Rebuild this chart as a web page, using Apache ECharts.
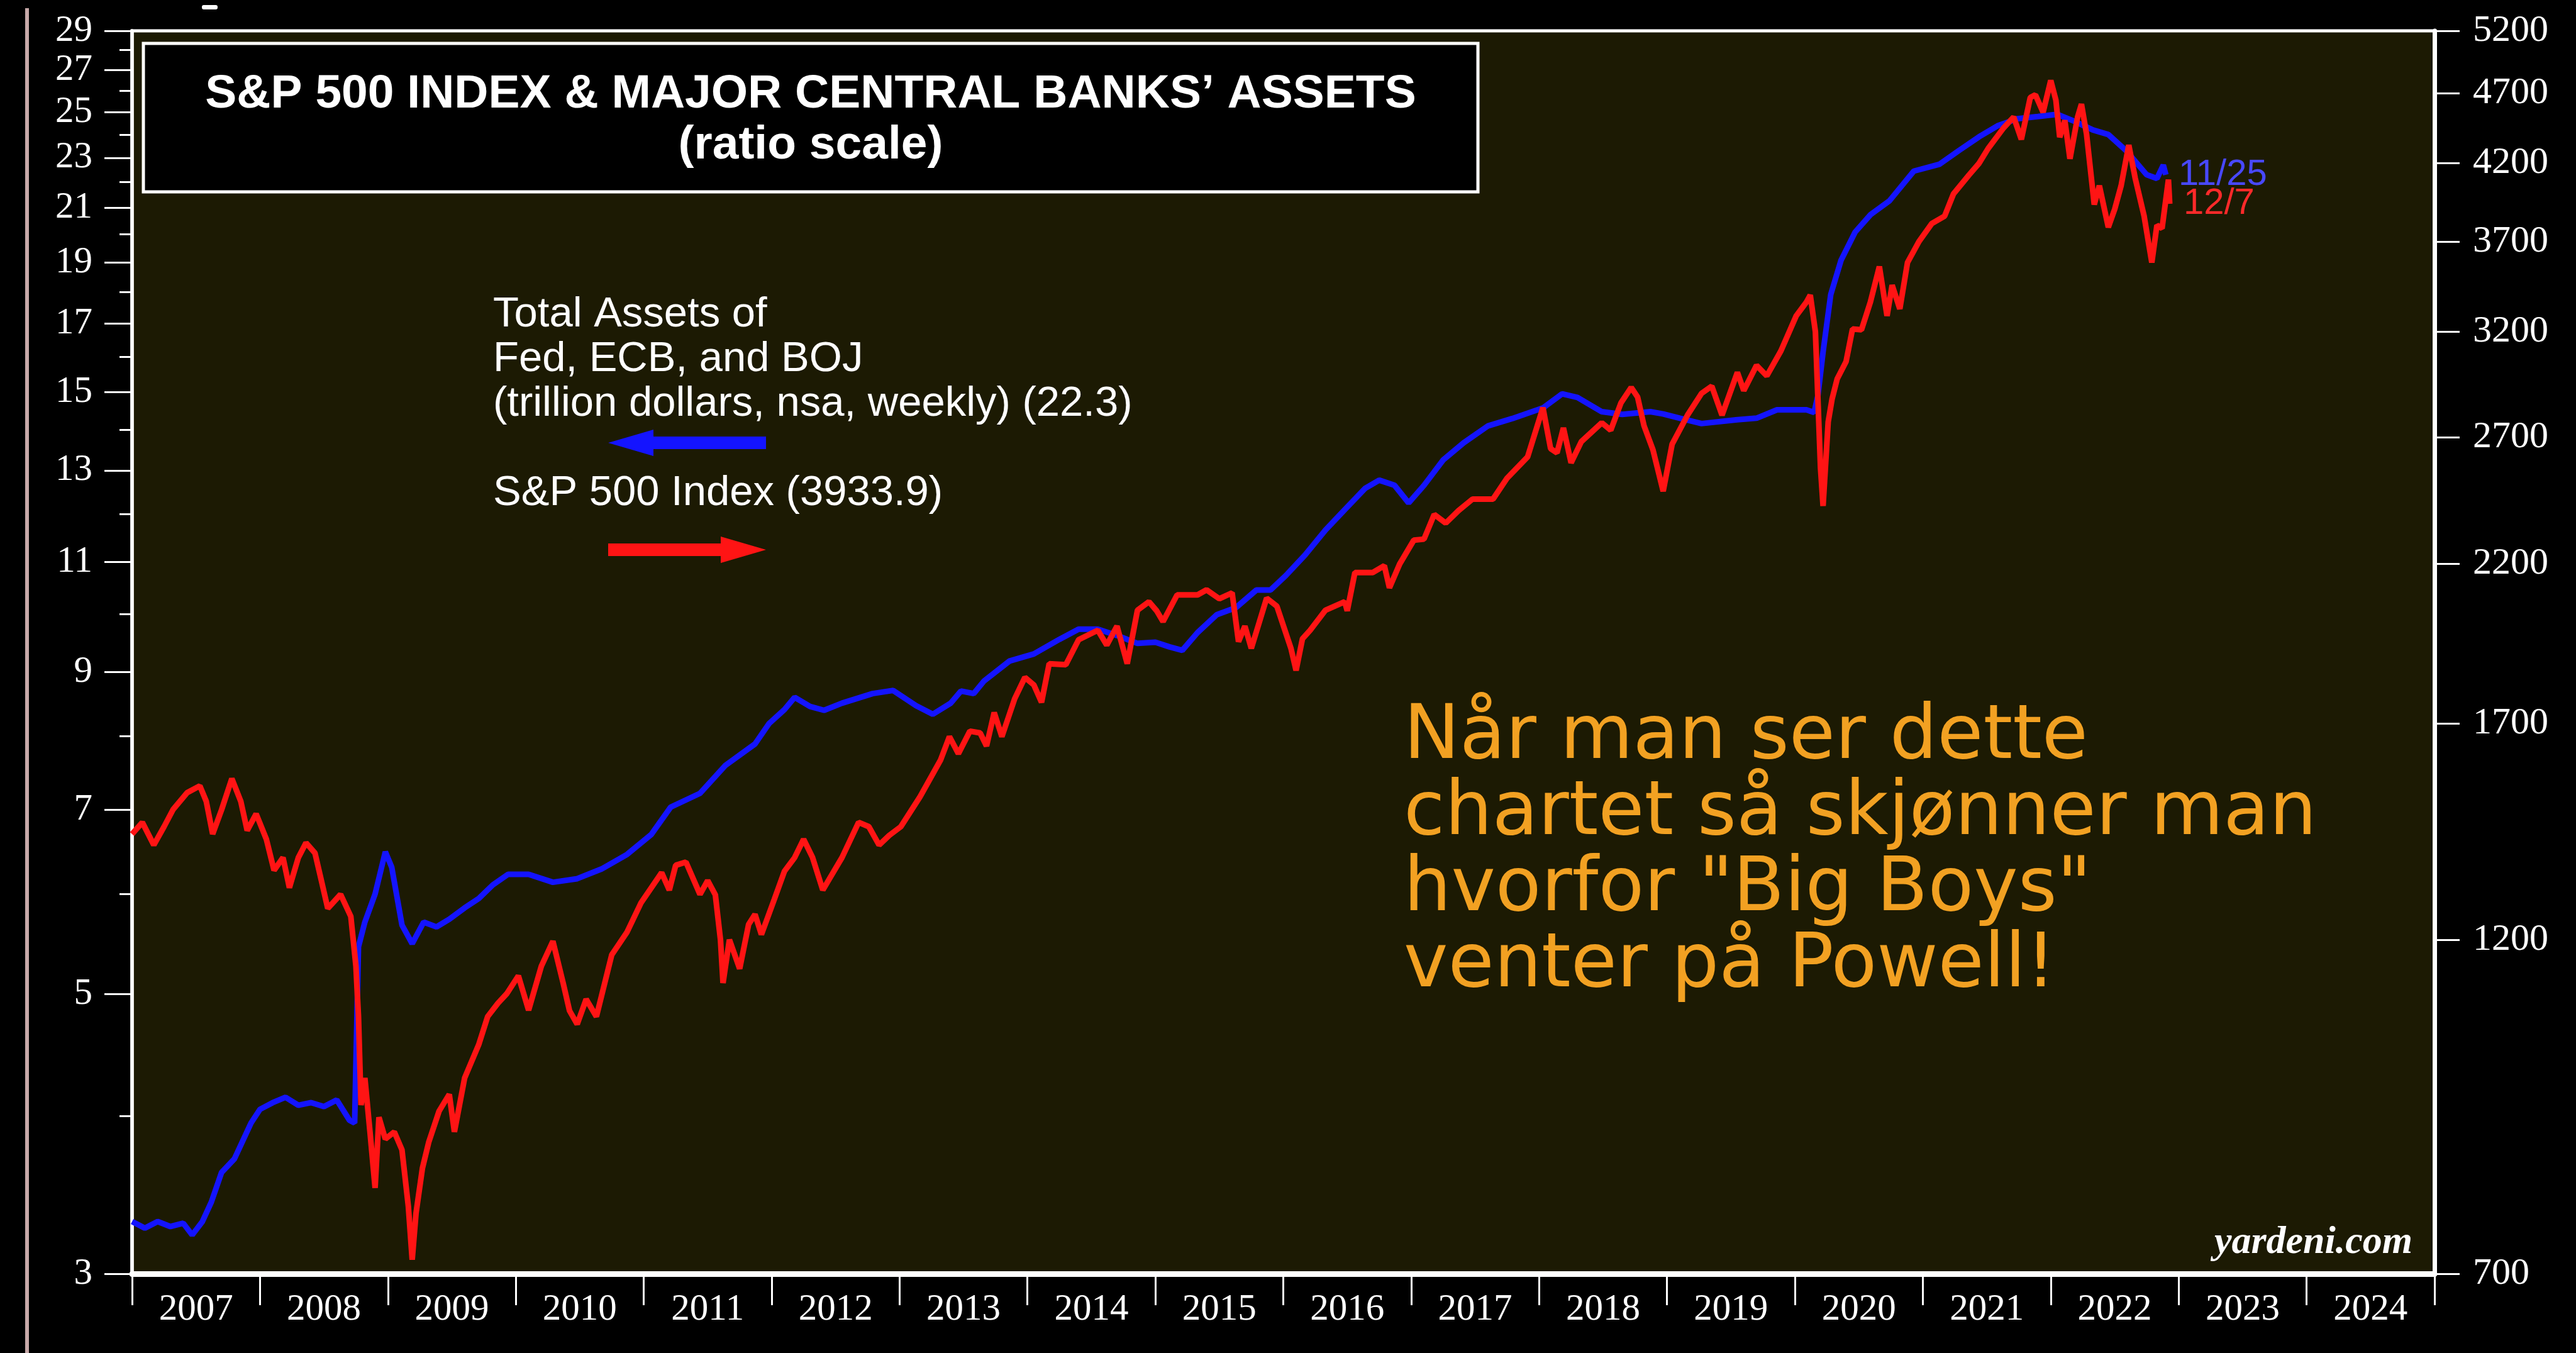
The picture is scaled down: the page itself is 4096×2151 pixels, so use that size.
<!DOCTYPE html>
<html>
<head>
<meta charset="utf-8">
<title>S&amp;P 500 Index &amp; Major Central Banks' Assets</title>
<script src="https://cdn.jsdelivr.net/npm/echarts@6/dist/echarts.min.js"></script>
<style>
  html, body { margin: 0; padding: 0; background: #000; }
  #chart { width: 4096px; height: 2151px; }
</style>
</head>
<body>
<div id="chart"></div>
<script>
// Fed + ECB + BOJ total assets, trillion dollars (left axis)
const assetYears = [
  2007.00, 2007.10, 2007.20, 2007.30, 2007.40, 2007.47, 2007.55, 2007.62, 2007.70, 2007.80,
  2007.93, 2008.00, 2008.10, 2008.20, 2008.30, 2008.40, 2008.50, 2008.60, 2008.70, 2008.74,
  2008.77, 2008.82, 2008.90, 2008.98, 2009.03, 2009.11, 2009.19, 2009.28, 2009.38, 2009.48,
  2009.60, 2009.71, 2009.82, 2009.94, 2010.10, 2010.29, 2010.48, 2010.67, 2010.87, 2011.06,
  2011.21, 2011.44, 2011.64, 2011.87, 2011.98, 2012.10, 2012.18, 2012.30, 2012.41, 2012.55,
  2012.79, 2012.95, 2013.13, 2013.26, 2013.40, 2013.48, 2013.58, 2013.66, 2013.86, 2014.05,
  2014.25, 2014.40, 2014.55, 2014.71, 2014.86, 2015.00, 2015.11, 2015.21, 2015.33, 2015.48,
  2015.63, 2015.79, 2015.90, 2016.02, 2016.17, 2016.33, 2016.48, 2016.64, 2016.75, 2016.87,
  2016.98, 2017.10, 2017.25, 2017.41, 2017.60, 2017.79, 2018.03, 2018.18, 2018.30, 2018.49,
  2018.65, 2018.87, 2018.97, 2019.10, 2019.27, 2019.55, 2019.70, 2019.86, 2020.09, 2020.15,
  2020.18, 2020.22, 2020.28, 2020.36, 2020.47, 2020.59, 2020.74, 2020.93, 2021.13, 2021.28,
  2021.44, 2021.59, 2021.74, 2021.90, 2022.05, 2022.18, 2022.33, 2022.45, 2022.59, 2022.75,
  2022.83, 2022.88, 2022.90
];
const assetValues = [
  3.30, 3.26, 3.30, 3.27, 3.29, 3.22, 3.30, 3.42, 3.61, 3.70,
  3.95, 4.05, 4.10, 4.14, 4.08, 4.10, 4.07, 4.12, 3.97, 3.95,
  5.45, 5.70, 6.00, 6.48, 6.30, 5.67, 5.48, 5.70, 5.65, 5.73,
  5.85, 5.95, 6.10, 6.22, 6.22, 6.13, 6.17, 6.28, 6.45, 6.69,
  7.03, 7.21, 7.59, 7.89, 8.19, 8.40, 8.59, 8.45, 8.39, 8.50,
  8.65, 8.70, 8.46, 8.33, 8.50, 8.69, 8.65, 8.85, 9.18, 9.30,
  9.55, 9.73, 9.73, 9.61, 9.48, 9.50, 9.42, 9.36, 9.67, 9.99,
  10.12, 10.45, 10.45, 10.73, 11.14, 11.66, 12.10, 12.58, 12.77, 12.65,
  12.25, 12.65, 13.25, 13.67, 14.10, 14.29, 14.57, 14.95, 14.85, 14.47,
  14.40, 14.47, 14.41, 14.30, 14.16, 14.26, 14.30, 14.52, 14.52, 14.45,
  14.91, 16.14, 17.92, 19.07, 20.08, 20.73, 21.27, 22.45, 22.73, 23.30,
  23.90, 24.40, 24.70, 24.80, 24.90, 24.60, 24.20, 24.00, 23.30, 22.30,
  22.15, 22.70, 22.30
];

// S&P 500 index (right axis)
const spxYears = [
  2007.00, 2007.08, 2007.17, 2007.25, 2007.32, 2007.43, 2007.53, 2007.58, 2007.63, 2007.70,
  2007.78, 2007.85, 2007.90, 2007.97, 2008.05, 2008.11, 2008.18, 2008.23, 2008.30, 2008.36,
  2008.43, 2008.48, 2008.53, 2008.63, 2008.71, 2008.75, 2008.77, 2008.79, 2008.82, 2008.86,
  2008.90, 2008.93, 2008.98, 2009.05, 2009.11, 2009.16, 2009.19, 2009.22, 2009.27, 2009.32,
  2009.40, 2009.48, 2009.52, 2009.60, 2009.71, 2009.78, 2009.86, 2009.93, 2010.02, 2010.10,
  2010.20, 2010.29, 2010.37, 2010.42, 2010.48, 2010.55, 2010.63, 2010.75, 2010.87, 2010.98,
  2011.14, 2011.20, 2011.25, 2011.33, 2011.44, 2011.50, 2011.56, 2011.60, 2011.62, 2011.67,
  2011.75, 2011.82, 2011.87, 2011.92, 2012.02, 2012.10, 2012.18, 2012.25, 2012.32, 2012.40,
  2012.45, 2012.55, 2012.68, 2012.76, 2012.84, 2012.92, 2013.01, 2013.16, 2013.32, 2013.39,
  2013.46, 2013.55, 2013.63, 2013.68, 2013.74, 2013.80, 2013.90, 2013.98, 2014.05, 2014.11,
  2014.17, 2014.30, 2014.40, 2014.55, 2014.62, 2014.70, 2014.78, 2014.86, 2014.95, 2015.01,
  2015.06, 2015.17, 2015.33, 2015.40, 2015.50, 2015.60, 2015.65, 2015.70, 2015.75, 2015.87,
  2015.95, 2016.06, 2016.10, 2016.15, 2016.21, 2016.33, 2016.48, 2016.50, 2016.56, 2016.70,
  2016.79, 2016.83, 2016.91, 2017.02, 2017.10, 2017.18, 2017.27, 2017.37, 2017.48, 2017.64,
  2017.75, 2017.91, 2018.03, 2018.09, 2018.14, 2018.19, 2018.25, 2018.33, 2018.49, 2018.56,
  2018.64, 2018.72, 2018.77, 2018.82, 2018.89, 2018.97, 2019.04, 2019.16, 2019.27, 2019.35,
  2019.43, 2019.55, 2019.60, 2019.70, 2019.78, 2019.89, 2020.01, 2020.09, 2020.12, 2020.16,
  2020.20, 2020.22, 2020.26, 2020.29, 2020.33, 2020.40, 2020.45, 2020.52, 2020.59, 2020.66,
  2020.72, 2020.76, 2020.82, 2020.88, 2020.97, 2021.07, 2021.17, 2021.24, 2021.36, 2021.44,
  2021.51, 2021.63, 2021.71, 2021.77, 2021.84, 2021.88, 2021.94, 2022.00, 2022.04, 2022.07,
  2022.11, 2022.15, 2022.21, 2022.24, 2022.28, 2022.34, 2022.38, 2022.45, 2022.50, 2022.55,
  2022.61, 2022.66, 2022.73, 2022.79, 2022.83, 2022.87, 2022.92, 2022.93
];
const spxValues = [
  1423, 1450, 1398, 1440, 1480, 1521, 1538, 1500, 1423, 1480,
  1556, 1500, 1431, 1470, 1411, 1342, 1370, 1305, 1370, 1403,
  1380, 1320, 1262, 1291, 1246, 1150, 1060, 919, 960, 880,
  804, 901, 870, 880, 855, 780, 716, 772, 830, 866,
  910, 935, 880, 960, 1013, 1060, 1083, 1100, 1132, 1071,
  1150, 1197, 1119, 1070, 1047, 1090, 1060, 1171, 1215, 1274,
  1337, 1300, 1353, 1360, 1291, 1320, 1290, 1200, 1119, 1200,
  1145, 1230, 1250, 1210, 1280, 1340, 1370, 1411, 1370, 1300,
  1323, 1370, 1450, 1440, 1398, 1420, 1440, 1511, 1603, 1665,
  1620, 1680, 1675, 1640, 1731, 1665, 1770, 1832, 1810, 1760,
  1873, 1870, 1947, 1977, 1930, 1990, 1873, 2042, 2070, 2040,
  2005, 2093, 2093, 2110, 2080, 2100, 1941, 1990, 1920, 2082,
  2055, 1920, 1853, 1950, 1977, 2042, 2070, 2040, 2170, 2170,
  2194, 2117, 2200, 2286, 2290, 2383, 2350, 2398, 2443, 2443,
  2527, 2615, 2831, 2650, 2632, 2740, 2590, 2680, 2763, 2730,
  2853, 2925, 2880, 2750, 2645, 2474, 2669, 2797, 2897, 2931,
  2797, 2997, 2910, 3031, 2980, 3102, 3283, 3357, 3395, 3200,
  2568, 2416, 2767, 2870, 2965, 3050, 3214, 3210, 3357, 3555,
  3283, 3450, 3320, 3578, 3702, 3810, 3856, 3998, 4120, 4200,
  4300, 4445, 4525, 4365, 4670, 4690, 4560, 4800, 4650, 4380,
  4500, 4230, 4525, 4620, 4400, 3929, 4050, 3788, 3900, 4050,
  4325, 4100, 3856, 3578, 3800, 3780, 4090, 3934
];

const yearLabels = ['2007', '2008', '2009', '2010', '2011', '2012', '2013', '2014', '2015',
  '2016', '2017', '2018', '2019', '2020', '2021', '2022', '2023', '2024'];
const leftTicks = [3, 5, 7, 9, 11, 13, 15, 17, 19, 21, 23, 25, 27, 29];
const leftMinorTicks = [4, 6, 8, 10, 12, 14, 16, 18, 20, 22, 24, 26, 28];
const rightTicks = [700, 1200, 1700, 2200, 2700, 3200, 3700, 4200, 4700, 5200];

const titleLines = ['S&P 500 INDEX & MAJOR CENTRAL BANKS’ ASSETS', '(ratio scale)'];
const assetLegend = ['Total Assets of', 'Fed, ECB, and BOJ', '(trillion dollars, nsa, weekly) (22.3)'];
const spxLegend = 'S&P 500 Index (3933.9)';
const noteLines = ['Når man ser dette', 'chartet så skjønner man', 'hvorfor "Big Boys"', 'venter på Powell!'];

const serif = '"Liberation Serif", "Times New Roman", serif';
const sans = '"Liberation Sans", Arial, sans-serif';
const BLUE = '#1414ff';
const RED = '#ff1414';

const pairs = (xs, ys) => xs.map((x, i) => [x, ys[i]]);

const chart = echarts.init(document.getElementById('chart'));

// text lines placed by baseline
const label = (text, x, baseline, size, opts = {}) => ({
  type: 'text',
  x: x,
  y: baseline - size * 0.345,
  z: 20,
  style: {
    text: text,
    fill: opts.color || '#fff',
    font: (opts.weight || 'normal') + ' ' + size + 'px ' + (opts.family || sans),
    textAlign: opts.align || 'left',
    textVerticalAlign: 'middle'
  }
});

const graphics = [
  // pinkish strip at the far left of the screenshot
  { type: 'rect', z: 1, shape: { x: 40, y: 13, width: 6, height: 2138 }, style: { fill: '#c7a9a9' } },
  { type: 'rect', z: 1, shape: { x: 321, y: 8, width: 25, height: 7, r: 3 }, style: { fill: '#fff' } },
  // title box
  { type: 'rect', z: 15, shape: { x: 228, y: 69, width: 2122, height: 236 },
    style: { fill: '#000', stroke: '#fff', lineWidth: 5 } },
  label(titleLines[0], 1289, 176, 75, { weight: 'bold', align: 'center' }),
  label(titleLines[1], 1289, 257, 75, { weight: 'bold', align: 'center' }),
  // legend
  label(assetLegend[0], 784, 524, 67),
  label(assetLegend[1], 784, 595, 67),
  label(assetLegend[2], 784, 666, 67),
  label(spxLegend, 784, 808, 67),
  { type: 'polygon', z: 20, shape: { points: [[967, 704], [1039, 683], [1039, 694], [1218, 694], [1218, 714], [1039, 714], [1039, 725]] },
    style: { fill: BLUE } },
  { type: 'polygon', z: 20, shape: { points: [[1218, 874], [1146, 853], [1146, 864], [967, 864], [967, 884], [1146, 884], [1146, 895]] },
    style: { fill: RED } },
  label('yardeni.com', 3836, 1997, 62, { weight: 'bold italic', family: serif, align: 'right' })
];
noteLines.forEach((line, i) => {
  graphics.push(label(line, 2232, 1215 + i * 121, 119, { color: '#f2a122', family: '"DejaVu Sans", sans-serif' }));
});

const plain = v => String(Math.round(v));

const option = {
  animation: false,
  backgroundColor: '#000',
  grid: {
    left: 210, right: 225, top: 49, bottom: 126,
    outerBoundsMode: 'none',
    show: true, backgroundColor: '#1c1a03', borderColor: '#fff', borderWidth: 5
  },
  xAxis: [
    { type: 'value', min: 2007, max: 2025, show: false },
    {
      type: 'category', data: yearLabels, position: 'bottom',
      axisLine: { show: true, onZero: false, lineStyle: { color: '#fff', width: 9 } },
      axisTick: { show: true, interval: 0, length: 50, lineStyle: { color: '#fff', width: 3 } },
      axisLabel: { interval: 0, color: '#fff', fontFamily: serif, fontSize: 59, margin: 28 },
      splitLine: { show: false }
    }
  ],
  yAxis: [
    {
      type: 'log', min: 3, max: 29, position: 'left',
      axisLine: { show: true, onZero: false, lineStyle: { color: '#fff', width: 5.5 } },
      axisTick: { show: true, customValues: leftTicks, length: 44, lineStyle: { color: '#fff', width: 3 } },
      axisLabel: { customValues: leftTicks, formatter: plain, color: '#fff', fontFamily: serif, fontSize: 59, margin: 63 },
      splitLine: { show: false }
    },
    {
      type: 'log', min: 3, max: 29, position: 'left',
      axisLine: { show: false },
      axisTick: { show: true, customValues: leftMinorTicks, length: 20, lineStyle: { color: '#fff', width: 3 } },
      axisLabel: { show: false },
      splitLine: { show: false }
    },
    {
      type: 'log', min: 700, max: 5200, position: 'right',
      axisLine: { show: true, onZero: false, lineStyle: { color: '#fff', width: 7 } },
      axisTick: { show: true, customValues: rightTicks, length: 40, lineStyle: { color: '#fff', width: 3 } },
      axisLabel: { customValues: rightTicks, formatter: plain, color: '#fff', fontFamily: serif, fontSize: 60, margin: 61 },
      splitLine: { show: false }
    }
  ],
  series: [
    {
      name: 'Total Assets', type: 'line', xAxisIndex: 0, yAxisIndex: 0,
      data: pairs(assetYears, assetValues),
      symbol: 'none', showSymbol: false, z: 3,
      lineStyle: { color: BLUE, width: 9 }, itemStyle: { color: BLUE },
      endLabel: { show: true, formatter: '11/25', color: '#4848ff', fontFamily: sans, fontSize: 58, distance: 20 }
    },
    {
      name: 'S&P 500', type: 'line', xAxisIndex: 0, yAxisIndex: 2,
      data: pairs(spxYears, spxValues),
      symbol: 'none', showSymbol: false, z: 4,
      lineStyle: { color: RED, width: 9 }, itemStyle: { color: RED },
      endLabel: { show: true, formatter: '12/7', color: '#ff2a2a', fontFamily: sans, fontSize: 58, distance: 22 }
    }
  ],
  graphic: graphics
};

chart.setOption(option);
window.addEventListener('resize', () => chart.resize());
</script>
</body>
</html>
